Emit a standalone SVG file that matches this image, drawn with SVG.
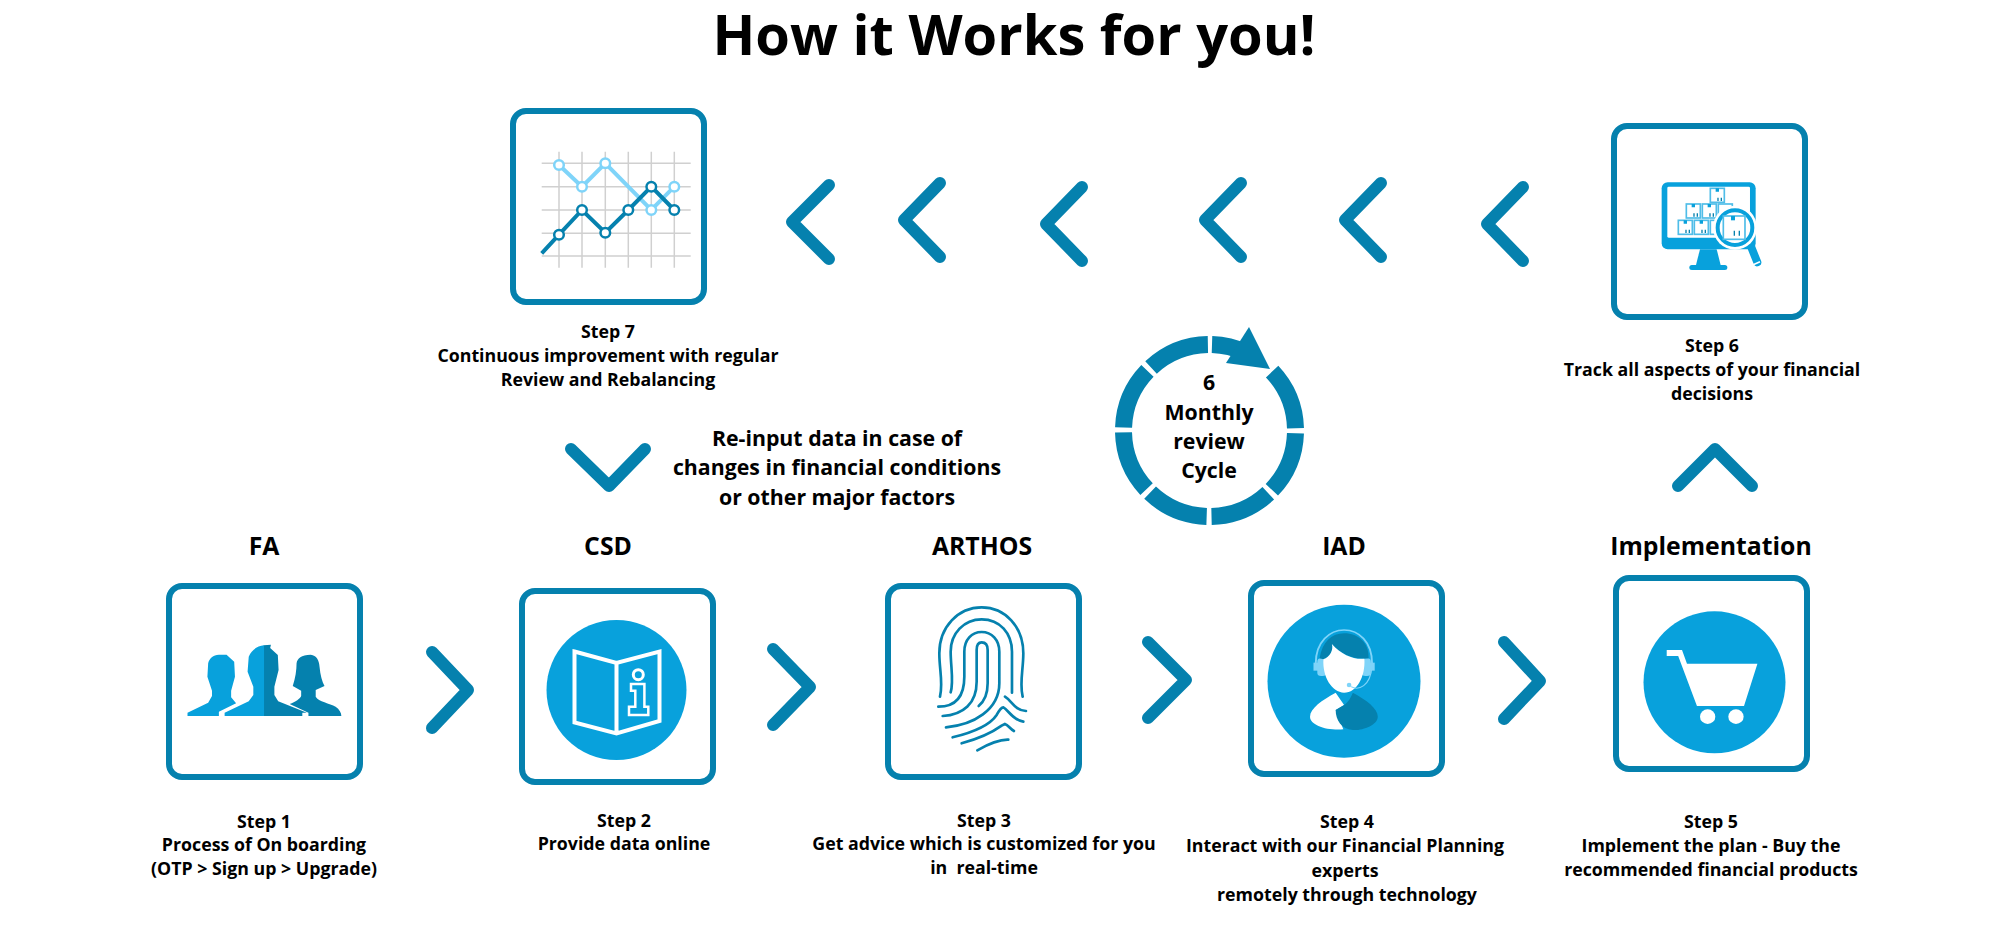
<svg xmlns="http://www.w3.org/2000/svg" width="2000" height="935" viewBox="0 0 2000 935">
<style>
text{font-family:"Open Sans","Liberation Sans",sans-serif;font-weight:700;fill:#000;text-anchor:middle;white-space:pre}
.t{font-size:17.75px}.h{font-size:24.8px}.m{font-size:21.3px}
.f{fill:#fff;stroke:#0581AE;stroke-width:6}
.c{fill:none;stroke:#0581AE;stroke-width:12;stroke-linecap:round;stroke-linejoin:round}
.b{fill:#08A1DC}.d{fill:#0581AE}.l{fill:#7FD4F9}.w{fill:#fff}
.g{stroke:#d0d0d0;stroke-width:1.5;fill:none}
.box{fill:#fff;stroke:#4FBDE8;stroke-width:5}
.fp{fill:none;stroke:#0581AE;stroke-width:8;stroke-linecap:round}
</style>
<text x="1014" y="55" style="font-size:56px">How it Works for you!</text>

<g id="connectors">
<path class="c" d="M432 652L468 690L432 728"/>
<path class="c" d="M773 649L810 687L773 725"/>
<path class="c" d="M1148 642L1186 680L1148 718"/>
<path class="c" d="M1504 642L1540 681L1504 719"/>
<path class="c" d="M1752 486L1715 449L1678 486"/>
<path class="c" d="M571 449L609 486L645 449"/>
<path class="c" d="M829 185L792 222L829 259"/>
<path class="c" d="M940 183L904 220L940 257"/>
<path class="c" d="M1082 187L1046 224L1082 261"/>
<path class="c" d="M1241 183L1205 220L1241 257"/>
<path class="c" d="M1381 183L1345 220L1381 257"/>
<path class="c" d="M1523 187L1487 224L1523 261"/>
</g>

<g id="step1">
<text class="h" x="264" y="555">FA</text>
<rect class="f" x="169" y="586" width="191" height="191" rx="13"/>
<g transform="translate(150 560) scale(.3827 .3333)">
<path class="b" d="M98 468L98 458L152 428L162 408L162 392L150 350L152 310C155 295 165 284 180 284L200 284L220 305L222 350L212 392L212 412L225 430L180 455L180 468Z"/>
<path class="d" d="M297 256L316 254L314 264L334 285L336 330L325 380L325 405L335 424L410 458L398 458L398 468L297 468Z"/>
<path class="b" d="M195 468L195 458L258 424L270 405L270 380L255 335L258 290C265 270 280 258 298 256L298 468Z"/>
<path class="d" d="M414 468L414 458L365 432C380 427 393 415 395 408L395 392L373 378C380 355 383 330 383 310C385 295 395 284 420 284C435 286 442 300 443 320C445 345 450 365 456 378L433 390L433 410C440 425 470 430 485 440C495 448 500 458 500 468Z"/>
</g>
<text class="t" x="264" y="828">Step 1</text>
<text class="t" x="264" y="851">Process of On boarding</text>
<text class="t" x="264" y="875">(OTP &gt; Sign up &gt; Upgrade)</text>
</g>

<g id="step2">
<text class="h" x="608" y="555">CSD</text>
<rect class="f" x="522" y="591" width="191" height="191" rx="13"/>
<circle class="b" cx="616.5" cy="690" r="70"/>
<path d="M574.5 651.5L616.5 663L659.5 651.5L659.5 721L616.5 733.5L574.5 722.5ZM616.5 663L616.5 733" fill="none" stroke="#fff" stroke-width="4"/>
<circle cx="638.3" cy="674.7" r="5" fill="none" stroke="#fff" stroke-width="3"/>
<path d="M631 684L644.4 684L644.4 706.7L648.3 706.7L648.3 715L629 715L629 706.7L635.3 706.7L635.3 690.7L631 690.7Z" fill="none" stroke="#fff" stroke-width="2.5"/>
<text class="t" x="624" y="827">Step 2</text>
<text class="t" x="624" y="850">Provide data online</text>
</g>

<g id="step3">
<text class="h" x="982" y="555">ARTHOS</text>
<rect class="f" x="888" y="586" width="191" height="191" rx="13"/>
<g transform="translate(860 570) scale(.3333)">
<path class="fp" d="M240 380C250 340 238 300 238 250C238 170 295 112 365 112C435 112 490 170 490 250C490 300 478 340 488 380"/>
<path class="fp" d="M272 367C282 335 272 290 272 245C272 190 312 148 365 148C420 148 456 190 456 245L456 368"/>
<path class="fp" d="M235 410C290 410 313 375 313 320L313 245C313 210 335 186 365 186C395 186 418 210 418 245L418 340C418 420 340 465 258 472"/>
<path class="fp" d="M248 438C310 435 350 400 350 335L350 240C350 225 355 217 365 217C378 217 383 225 383 240L383 340C383 375 372 395 356 408"/>
<path class="fp" d="M278 502C340 487 390 465 410 435C418 420 424 412 430 412C445 420 460 452 490 455"/>
<path class="fp" d="M305 520C360 505 400 485 425 467L435 462C445 465 450 477 462 483"/>
<path class="fp" d="M352 541C385 522 415 508 445 509"/>
<path class="fp" d="M435 380C455 392 465 422 498 423"/>
</g>
<text class="t" x="984" y="827">Step 3</text>
<text class="t" x="984" y="850">Get advice which is customized for you</text>
<text class="t" x="984" y="874">in  real-time</text>
</g>

<g id="step4">
<text class="h" x="1344" y="555">IAD</text>
<rect class="f" x="1251" y="583" width="191" height="191" rx="13"/>
<circle class="b" cx="1344" cy="681.3" r="76.5"/>
<g transform="translate(1240 570) scale(.3827 .3333)">
<path d="M198 280C198 215 235 180 272 180C310 180 345 215 345 280" fill="none" stroke="#7FD4F9" stroke-width="5"/>
<rect class="l" x="192" y="278" width="14" height="24"/><rect class="l" x="338" y="278" width="14" height="24"/>
<rect class="l" x="202" y="265" width="24" height="53" rx="10"/><rect class="l" x="318" y="265" width="24" height="53" rx="10"/>
<path class="d" d="M208 265C215 215 240 190 272 190C310 190 338 220 336 265C300 270 265 255 240 222C245 240 235 260 218 268Z"/>
<path class="w" d="M218 268C235 260 245 240 240 222C265 255 300 270 325 266C328 320 305 368 272 368C240 368 215 320 218 268Z"/>
<path d="M290 350C310 362 340 350 345 290" fill="none" stroke="#7FD4F9" stroke-width="3"/>
<ellipse class="l" cx="285" cy="345" rx="6" ry="7"/>
<path class="w" d="M250 368C215 390 183 415 183 440C183 465 225 482 270 478L250 420L272 405Z"/>
<path class="d" d="M295 368C330 390 360 415 360 440C360 465 320 482 295 480C265 478 250 450 250 420L272 405C285 395 290 380 295 368Z"/>
</g>
<text class="t" x="1347" y="828">Step 4</text>
<text class="t" x="1345" y="852">Interact with our Financial Planning</text>
<text class="t" x="1345" y="877">experts</text>
<text class="t" x="1347" y="901">remotely through technology</text>
</g>

<g id="step5">
<text class="h" x="1711" y="555">Implementation</text>
<rect class="f" x="1616" y="578" width="191" height="191" rx="13"/>
<circle class="b" cx="1714.5" cy="682.3" r="71"/>
<g transform="translate(1240 570) scale(.3827 .3333)">
<path class="w" d="M1115 240L1155 240L1168 281L1352 281L1317 408L1194 408L1145 258L1115 258Z"/>
<ellipse class="w" cx="1222" cy="440" rx="20" ry="22"/><ellipse class="w" cx="1296" cy="440" rx="20" ry="22"/>
</g>
<text class="t" x="1711" y="828">Step 5</text>
<text class="t" x="1711" y="852">Implement the plan - Buy the</text>
<text class="t" x="1711" y="876">recommended financial products</text>
</g>

<g id="step6">
<rect class="f" x="1614" y="126" width="191" height="191" rx="13"/>
<g transform="translate(1600 115) scale(.3333)">
<rect class="b" x="185" y="202" width="282" height="201" rx="18"/>
<rect class="w" x="202" y="215" width="248" height="153" rx="4"/>
<path class="b" d="M300 403L350 403L362 450L288 450Z"/>
<rect class="b" x="268" y="450" width="114" height="15" rx="7.5"/>
<rect class="box" x="331" y="220" width="42" height="42"/><rect class="box" x="259" y="267" width="42" height="42"/><rect class="box" x="307" y="267" width="42" height="42"/><rect class="box" x="355" y="267" width="42" height="42"/><rect class="box" x="235" y="316" width="42" height="42"/><rect class="box" x="283" y="316" width="42" height="42"/><rect class="box" x="331" y="316" width="42" height="42"/>
<path d="M347 220h10v10h-10zM275 267h10v10h-10zM323 267h10v10h-10zM251 316h10v10h-10zM299 316h10v10h-10z" class="b"/>
<path d="M354 258v-10M364 258v-10M282 305v-10M292 305v-10M330 305v-10M340 305v-10M258 354v-10M268 354v-10M306 354v-10M316 354v-10" stroke="#0581AE" stroke-width="4"/>
<path d="M448 382L472 442" stroke="#08A1DC" stroke-width="24" stroke-linecap="round"/>
<path d="M458 450L480 440" stroke="#fff" stroke-width="5"/>
<circle cx="405" cy="338" r="66" class="w"/>
<circle cx="405" cy="338" r="52" fill="#fff" stroke="#08A1DC" stroke-width="12"/>
<rect class="box" x="370" y="303" width="65" height="70"/>
<rect class="b" x="393" y="303" width="12" height="13"/>
<path d="M403 362v-15M418 362v-15" stroke="#0581AE" stroke-width="4"/>
</g>
<text class="t" x="1712" y="352">Step 6</text>
<text class="t" x="1712" y="376">Track all aspects of your financial</text>
<text class="t" x="1712" y="400">decisions</text>
</g>

<g id="step7">
<rect class="f" x="513" y="111" width="191" height="191" rx="13"/>
<path class="g" d="M541.7 163.3H690.7M541.7 186.7H690.7M541.7 210H690.7M541.7 233.3H690.7M541.7 256H690.7M559 151.7V267.7M582 151.7V267.7M605.3 151.7V267.7M628.3 151.7V267.7M651.3 151.7V267.7M674.3 151.7V267.7"/>
<g fill="none" stroke-width="4">
<path stroke="#7FD4F9" d="M559 165L582 186.7L605.3 163.3L651.3 210L674.3 186.7"/>
<path stroke="#0581AE" d="M541.7 253.3L559 234.7L582 210L605.3 232.7L628.3 210L651.3 186.7L674.3 210"/>
</g>
<g fill="#fff" stroke="#7FD4F9" stroke-width="2.5"><circle cx="559" cy="165" r="4.8"/><circle cx="582" cy="186.7" r="4.8"/><circle cx="605.3" cy="163.3" r="4.8"/><circle cx="651.3" cy="210" r="4.8"/><circle cx="674.3" cy="186.7" r="4.8"/></g>
<g fill="#fff" stroke="#0581AE" stroke-width="2.5"><circle cx="559" cy="234.7" r="4.8"/><circle cx="582" cy="210" r="4.8"/><circle cx="605.3" cy="232.7" r="4.8"/><circle cx="628.3" cy="210" r="4.8"/><circle cx="651.3" cy="186.7" r="4.8"/><circle cx="674.3" cy="210" r="4.8"/></g>
<text class="t" x="608" y="338">Step 7</text>
<text class="t" x="608" y="362">Continuous improvement with regular</text>
<text class="t" x="608" y="386">Review and Rebalancing</text>
</g>

<g id="note">
<text class="m" x="837" y="446">Re-input data in case of</text>
<text class="m" x="837" y="475">changes in financial conditions</text>
<text class="m" x="837" y="505">or other major factors</text>
</g>

<g id="cycle">
<circle cx="1209.5" cy="430.5" r="86" fill="none" stroke="#0581AE" stroke-width="17" transform="rotate(-90 1209.5 430.5)" stroke-dasharray="0 70.04 62.54 5 62.54 5 62.54 5 62.54 5 62.54 5 62.54 5 62.54 2.5"/>
<path d="M1212 344.5A86 86 0 0 1 1245.8 352.6" fill="none" stroke="#0581AE" stroke-width="17"/>
<path class="d" d="M1249 327L1270 369L1226 363Z"/>
<text class="m" x="1209" y="390">6</text>
<text class="m" x="1209" y="420">Monthly</text>
<text class="m" x="1209" y="449">review</text>
<text class="m" x="1209" y="478">Cycle</text>
</g>
</svg>
